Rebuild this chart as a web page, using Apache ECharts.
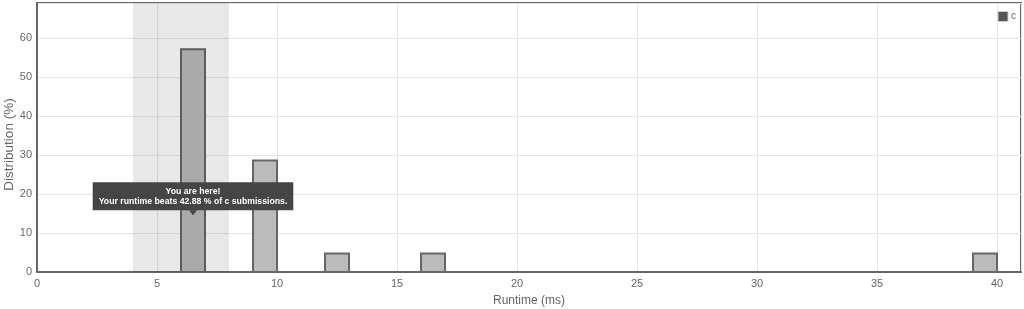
<!DOCTYPE html>
<html><head><meta charset="utf-8">
<script src="https://cdn.jsdelivr.net/npm/echarts@6/dist/echarts.min.js"></script>
<style>html,body{margin:0;padding:0;background:#fff}#c{width:1024px;height:309px}</style>
</head><body><div id="c"></div>
<script>
// runtime bins [start ms, end ms]
const binStart = [6, 9, 12, 16, 39];
const binEnd   = [7, 10, 13, 17, 40];
// distribution (%)
const distribution = [57.14, 28.57, 4.76, 4.76, 4.76];
// highlighted "you are here" range
const highlight = [4, 8];
// tooltip anchor [runtime, distribution]
const markerAt = [6.5, 15.2];
const tipLines = ['You are here!', 'Your runtime beats 42.88 % of c submissions.'];
const legendName = 'c';

const FONT = '"Liberation Sans", Arial, sans-serif';
const chart = echarts.init(document.getElementById('c'), null, {renderer: 'canvas'});
const barData = binStart.map((s, i) => [s, binEnd[i], distribution[i]]);

chart.setOption({
  animation: false,
  textStyle: {fontFamily: FONT},
  grid: {left: 37, right: 3, top: 3, bottom: 37, containLabel: false, outerBoundsMode: 'none',
    show: true, borderColor: '#666', borderWidth: 2, backgroundColor: 'transparent'},
  legend: {
    right: 8, top: 11, padding: 0, itemWidth: 10, itemHeight: 10, itemGap: 0,
    icon: 'rect',
    textStyle: {fontSize: 10, color: '#666', padding: [0, 0, 0, -2]},
    data: [{name: legendName, itemStyle: {color: '#555', borderColor: '#ccc', borderWidth: 1}}]
  },
  xAxis: {
    type: 'value', min: 0, max: 41, interval: 5,
    name: 'Runtime (ms)', nameLocation: 'middle', nameGap: 23, nameMoveOverlap: false,
    nameTextStyle: {fontSize: 12, color: '#666', fontFamily: FONT},
    axisLine: {show: true, lineStyle: {color: '#666', width: 2}},
    axisTick: {show: false},
    axisLabel: {fontSize: 11, color: '#666', margin: 6, showMaxLabel: false,
      formatter: v => (v % 5 === 0 ? String(v) : '')},
    splitLine: {show: true, lineStyle: {color: '#e6e6e6', width: 1}}
  },
  yAxis: {
    type: 'value', min: 0, max: 69, interval: 10,
    name: 'Distribution (%)', nameLocation: 'middle', nameGap: 21, nameMoveOverlap: false,
    nameTextStyle: {fontSize: 13.5, color: '#666', fontFamily: FONT, padding: [0, 14, 0, 0]},
    axisLine: {show: true, lineStyle: {color: '#666', width: 2}},
    axisTick: {show: false},
    axisLabel: {fontSize: 11, color: '#666', margin: 5, showMaxLabel: false,
      formatter: v => (v % 10 === 0 ? String(v) : '')},
    splitLine: {show: true, lineStyle: {color: '#e6e6e6', width: 1}}
  },
  series: [
    {
      name: legendName, type: 'custom', z: 2,
      itemStyle: {color: '#555'},
      encode: {x: [0, 1], y: 2},
      renderItem: (params, api) => {
        const p0 = api.coord([api.value(0), 0]);
        const p1 = api.coord([api.value(1), api.value(2)]);
        return {type: 'rect', shape: {x: p0[0], y: p1[1], width: p1[0] - p0[0], height: p0[1] - p1[1]},
          style: {fill: '#bbbbbb', stroke: '#666', lineWidth: 2}};
      },
      data: barData
    },
    {
      name: 'band', type: 'custom', z: 3, silent: true,
      encode: {x: [0, 1]},
      renderItem: (params, api) => {
        const ext = api.coord([api.value(0), 0]);
        const ext2 = api.coord([api.value(1), 69]);
        return {type: 'rect', shape: {x: ext[0], y: ext2[1], width: ext2[0] - ext[0], height: ext[1] - ext2[1]},
          style: {fill: 'rgba(0,0,0,0.09)'}};
      },
      data: [highlight]
    },
    {
      name: 'tip', type: 'scatter', z: 5, silent: true,
      symbol: 'triangle', symbolRotate: 180, symbolSize: [8, 5],
      itemStyle: {color: '#444', opacity: 1},
      label: {
        show: true, position: 'top', distance: 0,
        formatter: tipLines.join('\n'),
        backgroundColor: '#454545', color: '#fff', fontWeight: 'bold', fontSize: 8.7,
        fontFamily: FONT, lineHeight: 10, align: 'center', padding: [4, 6, 4, 6]
      },
      data: [markerAt]
    }
  ]
});
</script></body></html>
